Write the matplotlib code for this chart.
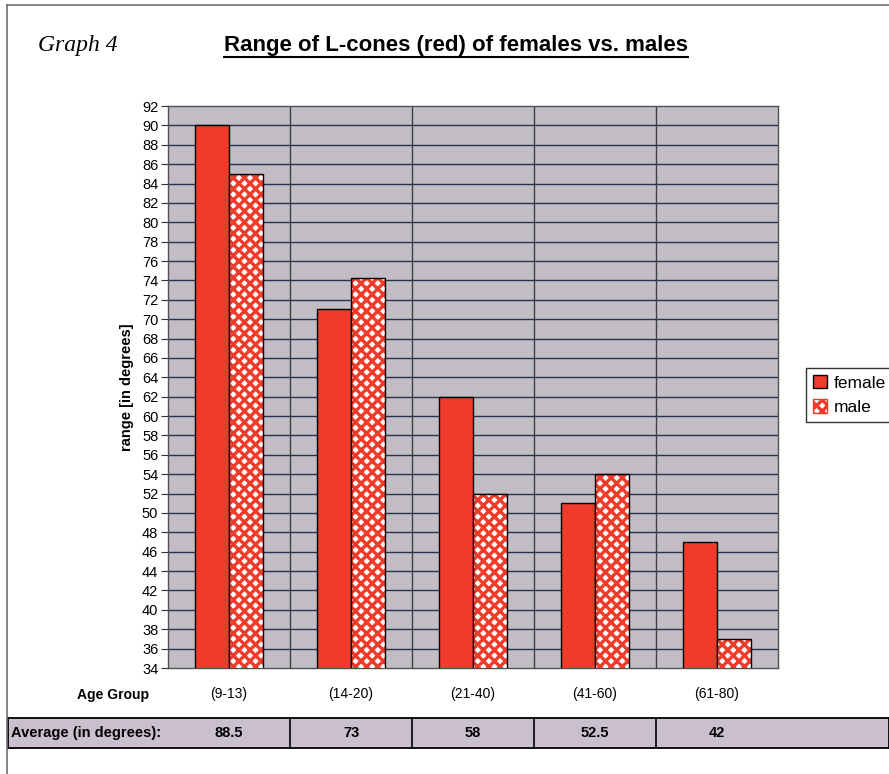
import matplotlib
matplotlib.use("Agg")
import matplotlib.pyplot as plt
import matplotlib.transforms as mtransforms
from matplotlib.lines import Line2D
import numpy as np

# データ
age_groups = ["(9-13)", "(14-20)", "(21-40)", "(41-60)", "(61-80)"]
female = [90, 71, 62, 51, 47]
male = [85, 74.3, 52, 54, 37]
averages = ["88.5", "73", "58", "52.5", "42"]

plt.rcParams['font.family'] = ['Liberation Sans', 'DejaVu Sans']
plt.rcParams['hatch.linewidth'] = 2.4

W, H = 889, 774
fig = plt.figure(figsize=(W / 100, H / 100), dpi=100)
fig.patch.set_facecolor("white")

ax = fig.add_axes([168 / W, 1 - 668 / H, 610 / W, 562 / H])
ax.set_facecolor("#c2bdc5")

x = np.arange(len(age_groups))
bw = 0.28
red = "#f03b2b"

ax.bar(x - bw / 2, female, bw, color=red, edgecolor="black", linewidth=1, zorder=3, label="female")
# male: 白い水玉っぽい柄
ax.bar(x + bw / 2, male, bw, color="white", edgecolor=red, hatch="xxx", linewidth=0, zorder=3)
ax.bar(x + bw / 2, male, bw, color="none", edgecolor="black", linewidth=1, zorder=4)

ax.set_xlim(-0.5, len(age_groups) - 0.5)
ax.set_ylim(34, 92)
ax.set_yticks(np.arange(34, 93, 2))
ax.tick_params(axis="y", labelsize=10.5, length=5, direction="out", pad=2, colors="#303030", labelcolor="black")
ax.set_xticks(x)
ax.set_xticklabels(age_groups, fontsize=10)
ax.tick_params(axis="x", length=0, pad=14)

# グリッド
for yv in np.arange(36, 92, 2):
    ax.axhline(yv, color="#28304a", linewidth=1, zorder=1)
for xv in np.arange(0.5, len(age_groups) - 0.5, 1):
    ax.axvline(xv, color="#3c4040", linewidth=1, zorder=1)
for s in ax.spines.values():
    s.set_color("#505050")
    s.set_linewidth(1)

ax.set_ylabel("range [in degrees]", fontsize=10.5, fontweight="bold", labelpad=6)

# タイトル
fig.text(38 / W, 1 - 45 / H, "Graph 4", fontsize=17, fontstyle="italic",
         family=["Liberation Serif"], va="center", ha="left")
title = fig.text(456 / W, 1 - 45 / H, "Range of L-cones (red) of females vs. males",
                 fontsize=16, fontweight="bold", va="center", ha="center")
fig.text(113 / W, 1 - 695 / H, "Age Group", fontsize=10, fontweight="bold", va="center", ha="center")

# 凡例
fig.legend(loc="center left", bbox_to_anchor=(806 / W, 1 - 395 / H), fontsize=12.5,
           handles=[plt.Rectangle((0, 0), 1, 1, facecolor=red, edgecolor="black"),
                    plt.Rectangle((0, 0), 1, 1, facecolor="white", edgecolor=red, hatch="xxx")],
           labels=["female", "male"], frameon=True, fancybox=False, edgecolor="black",
           handlelength=0.8, handleheight=0.8, handletextpad=0.4, borderpad=0.4,
           labelspacing=0.5, borderaxespad=0)

# 平均の行
tax = fig.add_axes([8 / W, 1 - 748 / H, 1 - 8 / W, 30 / H])
tax.set_facecolor("#c9bfcf")
tax.set_xticks([])
tax.set_yticks([])
for s in tax.spines.values():
    s.set_color("black")
    s.set_linewidth(1.3)
tr = mtransforms.blended_transform_factory(ax.transData, tax.transAxes)
for xv in np.arange(0.5, len(age_groups) - 0.5, 1):
    tax.add_artist(Line2D([xv, xv], [0, 1], transform=tr, color="black", linewidth=1.2))
tax.text(0.003, 0.5, "Average (in degrees):", transform=tax.transAxes, fontsize=10.5,
         fontweight="bold", va="center", ha="left")
for i, a in enumerate(averages):
    tax.text(i, 0.5, a, transform=tr, fontsize=10.5, fontweight="bold", va="center", ha="center")

# 枠線
fig.add_artist(Line2D([7 / W, 7 / W], [0, 1 - 5 / H], color="#707070", linewidth=1.2))
fig.add_artist(Line2D([7 / W, 1], [1 - 5 / H, 1 - 5 / H], color="#707070", linewidth=1.2))

# タイトルの下線
fig.canvas.draw()
bb = title.get_window_extent(fig.canvas.get_renderer())
fig.add_artist(Line2D([bb.x0 / W, bb.x1 / W], [(bb.y0 - 1) / H, (bb.y0 - 1) / H],
                      color="black", linewidth=1.5))

fig.savefig("out.png", dpi=100)
